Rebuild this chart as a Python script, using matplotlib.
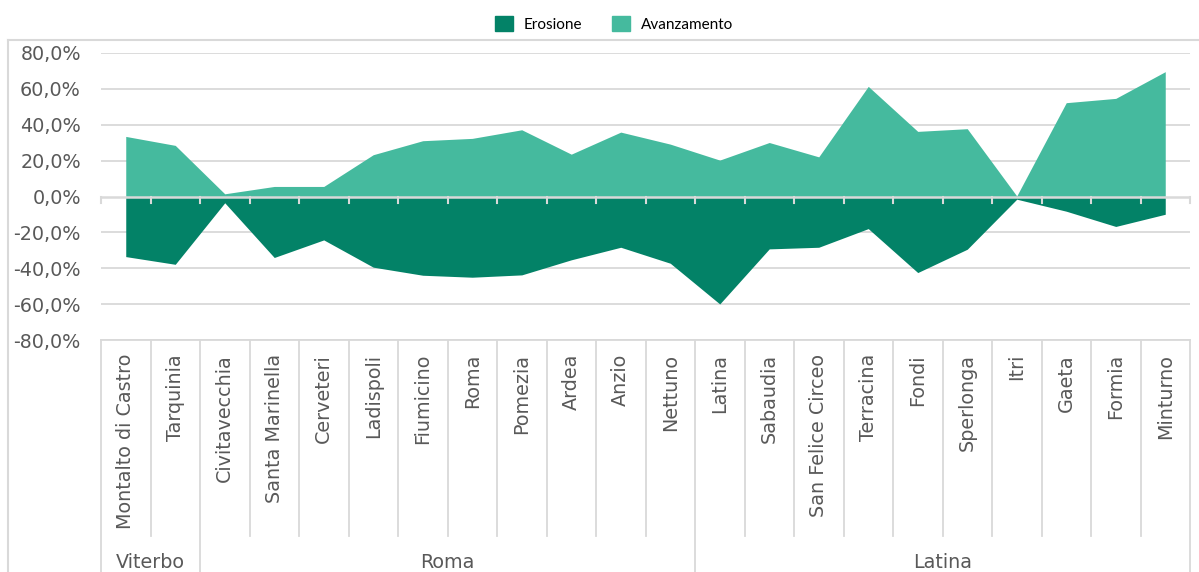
import matplotlib.pyplot as plt
import numpy as np
from matplotlib.patches import Patch
from matplotlib.lines import Line2D

# comuni costieri del Lazio, raggruppati per provincia
comuni = ["Montalto di Castro", "Tarquinia", "Civitavecchia", "Santa Marinella",
          "Cerveteri", "Ladispoli", "Fiumicino", "Roma", "Pomezia", "Ardea",
          "Anzio", "Nettuno", "Latina", "Sabaudia", "San Felice Circeo",
          "Terracina", "Fondi", "Sperlonga", "Itri", "Gaeta", "Formia", "Minturno"]
province = ["Viterbo", "Roma", "Latina"]
n_per_provincia = [2, 10, 10]

# percentuali di costa in avanzamento / erosione
avanzamento = [33.5, 28.5, 1.5, 5.6, 5.6, 23.3, 31.1, 32.4, 37.2, 23.6, 35.9,
               29.2, 20.3, 30.1, 22.1, 61.4, 36.3, 37.8, 0.3, 52.3, 54.7, 69.6]
erosione = [-33.5, -37.8, -3.5, -34.0, -24.2, -39.4, -43.9, -45.0, -43.7, -35.3,
            -28.3, -37.2, -59.9, -29.2, -28.3, -17.9, -42.4, -29.4, -1.5, -8.2,
            -16.7, -9.9]

C_ERO = "#038267"
C_AVA = "#45BA9E"
GRID = "#d9d9d9"
TXT = "#595959"
FONT = "DejaVu Sans"
FS = 13.8

W, H = 1199, 572
fig = plt.figure(figsize=(W / 100, H / 100), dpi=100)
ax = fig.add_axes([101 / W, 1 - 340 / H, (1190 - 101) / W, (340 - 53) / H])

x = np.arange(len(comuni))
ax.fill_between(x, 0, avanzamento, color=C_AVA, linewidth=0, zorder=2)
ax.fill_between(x, 0, erosione, color=C_ERO, linewidth=0, zorder=2)

ax.set_xlim(-0.5, len(comuni) - 0.5)
ax.set_ylim(-80, 80)
ticks = np.arange(-80, 81, 20)
ax.set_yticks(ticks)
ax.set_yticklabels([f"{t:.1f}%".replace(".", ",") for t in ticks],
                   fontsize=FS, color=TXT, family=FONT)
ax.tick_params(axis="y", length=0, pad=14.5)
ax.set_xticks([])
for s in ax.spines.values():
    s.set_visible(False)
for t in ticks:
    if t != 0:
        ax.axhline(t, color=GRID, lw=1.3, zorder=1)
ax.axhline(0, color=GRID, lw=1.8, zorder=3)

trans = ax.get_xaxis_transform()
px = 1 / (340 - 53)  # un pixel in frazione d'asse
bordi = np.arange(len(comuni) + 1) - 0.5
for b in bordi:
    # tacche sull'asse dello zero
    ax.plot([b, b], [0, -3.4], color=GRID, lw=1.5, clip_on=False, zorder=3)

# confini fra province
gruppi = np.cumsum([0] + n_per_provincia) - 0.5
for b in bordi:
    bottom = -(H - 340) * px if b in gruppi else -(536 - 340) * px
    ax.add_line(Line2D([b, b], [0, bottom], transform=trans, color=GRID,
                       lw=1.3, clip_on=False))
ax.add_line(Line2D([-0.5, len(comuni) - 0.5], [0, 0], transform=trans,
                   color=GRID, lw=1.3, clip_on=False))

for i, nome in enumerate(comuni):
    ax.text(i, -14 * px, nome, transform=trans, rotation=90, ha="center",
            va="top", fontsize=FS, color=TXT, family=FONT)

start = 0
for prov, n in zip(province, n_per_provincia):
    centro = start + (n - 1) / 2
    ax.text(centro, -(562 - 340) * px, prov, transform=trans, ha="center",
            va="center", fontsize=FS, color=TXT, family=FONT)
    start += n

# cornice esterna
fig.add_artist(Line2D([8 / W, 1], [1 - 40 / H] * 2, color=GRID, lw=1.5))
fig.add_artist(Line2D([8 / W] * 2, [0, 1 - 40 / H], color=GRID, lw=1.5))

handles = [Patch(color=C_ERO, label="Erosione"),
           Patch(color=C_AVA, label="Avanzamento")]
fig.legend(handles=handles, loc="center", bbox_to_anchor=(0.512, 1 - 24 / H),
           ncol=2, frameon=False, handlelength=1.15, handleheight=1.15,
           columnspacing=2.0, handletextpad=0.7,
           prop={"family": "Lato", "size": 11})

fig.savefig("out.png", dpi=100)
